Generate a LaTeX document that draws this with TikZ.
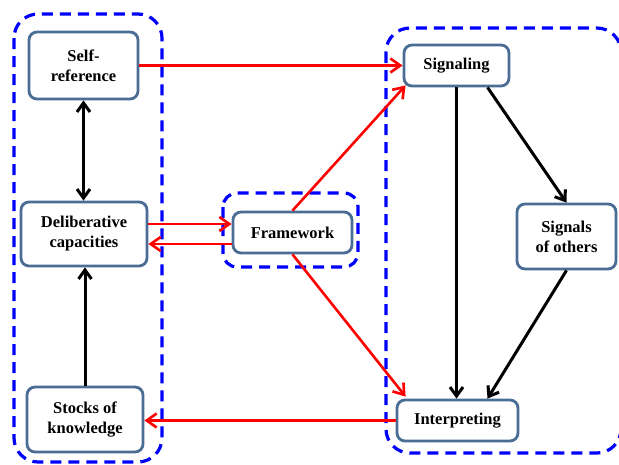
\documentclass[tikz,border=0pt]{standalone}
\usepackage{fontspec}
\setmainfont{Liberation Serif}
\usetikzlibrary{arrows.meta,calc}
\definecolor{boxblue}{HTML}{4A6D96}
\definecolor{dashblue}{HTML}{0000FF}
\tikzset{
  box/.style={draw=boxblue, line width=2.8pt, rounded corners=8pt, fill=white,
    align=center, inner sep=0pt, font=\fontsize{16.5}{20}\selectfont\bfseries},
  container/.style={draw=dashblue, line width=3.2pt, dash pattern=on 11pt off 7pt, rounded corners=24pt},
  redarrow/.style={draw=red, line width=2.6pt, -{Straight Barb[length=10pt,width=14pt]}},
  blackarrow/.style={draw=black, line width=3pt, -{Straight Barb[length=9pt,width=13pt]}},
}
\begin{document}
\begin{tikzpicture}[x=1pt,y=-1pt]
\path[use as bounding box] (0,0) rectangle (619,464);
\fill[white] (0,0) rectangle (619,464);
\begin{scope}
\clip (0,0) rectangle (619,464);
% containers
\draw[container] (14,14) rectangle (162,462);
\draw[container] (386,28) rectangle (621,453);
\draw[container, rounded corners=14pt] (223,193) rectangle (358,267);
\end{scope}
% nodes
\node[box, minimum width=109pt, minimum height=67pt] (self) at (83.5,65.5) {Self-\\reference};
\node[box, minimum width=126pt, minimum height=64pt] (delib) at (84,234) {Deliberative\\capacities};
\node[box, minimum width=116pt, minimum height=65pt] (stocks) at (85,419.5) {Stocks of\\knowledge};
\node[box, minimum width=119pt, minimum height=41pt] (frame) at (292.5,232.5) {Framework};
\node[box, minimum width=105pt, minimum height=41pt] (sig) at (456.5,65.5) {Signaling};
\node[box, minimum width=99pt, minimum height=65pt] (oth) at (566.5,236.5) {Signals\\of others};
\node[box, minimum width=121pt, minimum height=41pt] (interp) at (457.5,420.5) {Interpreting};
% helper coordinates
\coordinate (yA) at (0,224);
\coordinate (yB) at (0,244);
% red connectors
\draw[redarrow] (self.east) -- (sig.west |- self.east);
\draw[redarrow] (delib.east |- yA) -- (frame.west |- yA);
\draw[redarrow] (frame.west |- yB) -- (delib.east |- yB);
\draw[redarrow] (frame.north) -- ($(sig.south west)+(3,-2)$);
\draw[redarrow] (frame.south) -- ($(interp.north west)+(10,-2)$);
\draw[redarrow] (interp.west) -- (stocks.east |- interp.west);
% black connectors
\draw[blackarrow, {Straight Barb[length=9pt,width=13pt]}-{Straight Barb[length=9pt,width=13pt]}] (self.south) -- (self.south |- delib.north);
\draw[blackarrow] (stocks.north) -- (stocks.north |- delib.south);
\draw[blackarrow] (sig.south) -- (sig.south |- interp.north);
\draw[blackarrow] ($(sig.south)+(31,0)$) -- (oth.north);
\draw[blackarrow] (oth.south) -- ($(interp.north)+(30,0)$);
\end{tikzpicture}
\end{document}
